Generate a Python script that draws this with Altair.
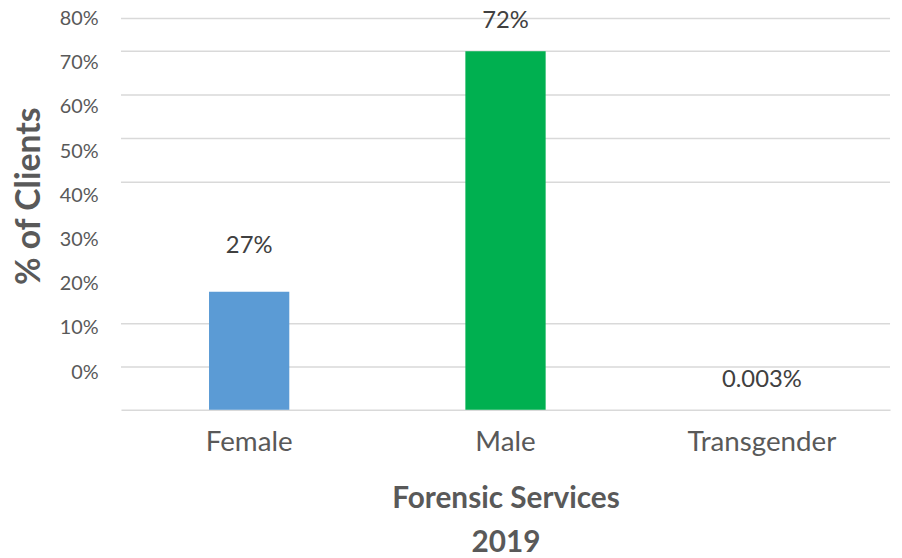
import altair as alt
import pandas as pd

# ---- data ----
CATEGORIES = ["Female", "Male", "Transgender"]
BAR_VALUES = [23.7, 72, 0.003]            # bar heights as drawn (%), baseline at the bottom line
LABEL_VALUES = [27, 72, 0.003]            # printed data label values (%)
LABEL_TEXT = ["27%", "72%", "0.003%"]     # printed data labels
BAR_COLORS = ["#5B9BD5", "#00B050", "#A5A5A5"]
Y_TICKS = [0, 10, 20, 30, 40, 50, 60, 70, 80]      # printed axis labels
GRID_VALUES = [78.6, 72, 63.2, 54.5, 45.7, 17.3, 8.6]  # light grid lines (bar scale)

AXIS_DOMAIN = [-8.5, 80]     # the printed axis labels sit on this scale
BAR_DOMAIN = [0, 78.6]       # bars are drawn on this one

bars_df = pd.DataFrame({"cat": CATEGORIES, "value": BAR_VALUES, "color": BAR_COLORS})
labels_df = pd.DataFrame({"cat": CATEGORIES, "value": LABEL_VALUES, "text": LABEL_TEXT})
grid_df = pd.DataFrame({"value": GRID_VALUES})
ticks_df = pd.DataFrame({"tick": Y_TICKS})

FONT = "Lato"
GREY = "#595959"

yaxis = alt.Axis(
    values=Y_TICKS, labelExpr="datum.value + '%'", grid=False, ticks=False, domain=False,
    labelFont=FONT, labelFontSize=20, labelColor=GREY, labelPadding=23,
    title="% of Clients", titleFont=FONT, titleFontSize=34, titleFontWeight="bold",
    titleColor=GREY, titleAngle=270, titleAlign="center", titleBaseline="middle",
    titleX=-92, titleY=179,
)
xscale = alt.Scale(domain=CATEGORIES, paddingInner=0, paddingOuter=0)
xaxis = alt.Axis(
    labelAngle=0, ticks=False, domainColor="#D9D9D9", domainWidth=1.5,
    labelFont=FONT, labelFontSize=28, labelColor=GREY, labelPadding=19,
    title=["Forensic Services", "2019"], titleFont=FONT, titleFontSize=30,
    titleFontWeight="bold", titleColor=GREY, titleLineHeight=44, titlePadding=28,
)
bscale = alt.Scale(domain=BAR_DOMAIN, nice=False, zero=False)

# invisible layer carrying the printed y axis
axis_layer = alt.Chart(ticks_df).mark_point(opacity=0).encode(
    y=alt.Y("tick:Q", scale=alt.Scale(domain=AXIS_DOMAIN, nice=False, zero=False), axis=yaxis),
)

grid = alt.Chart(grid_df).mark_rule(color="#D9D9D9", strokeWidth=1.5).encode(
    y=alt.Y("value:Q", scale=bscale, axis=None),
)

bars = alt.Chart(bars_df).mark_bar(size=81).encode(
    x=alt.X("cat:N", scale=xscale, axis=xaxis, sort=CATEGORIES),
    y=alt.Y("value:Q", scale=bscale, axis=None),
    color=alt.Color("color:N", scale=None, legend=None),
)

texts = alt.Chart(labels_df).mark_text(
    font=FONT, fontSize=24, color="#404040", baseline="middle", dy=-30
).encode(
    x=alt.X("cat:N", scale=xscale, axis=xaxis, sort=CATEGORIES),
    y=alt.Y("value:Q", scale=bscale, axis=None),
    text="text:N",
)

chart = alt.layer(axis_layer, grid, bars, texts).resolve_scale(y="independent").properties(
    width=776, height=395,
    autosize=alt.AutoSizeParams(type="none"),
    padding={"left": 114, "top": 8, "right": 4, "bottom": 147},
    background="white",
).configure_view(stroke=None)

chart.save("out.html", embed_options={"renderer": "svg", "actions": False})
